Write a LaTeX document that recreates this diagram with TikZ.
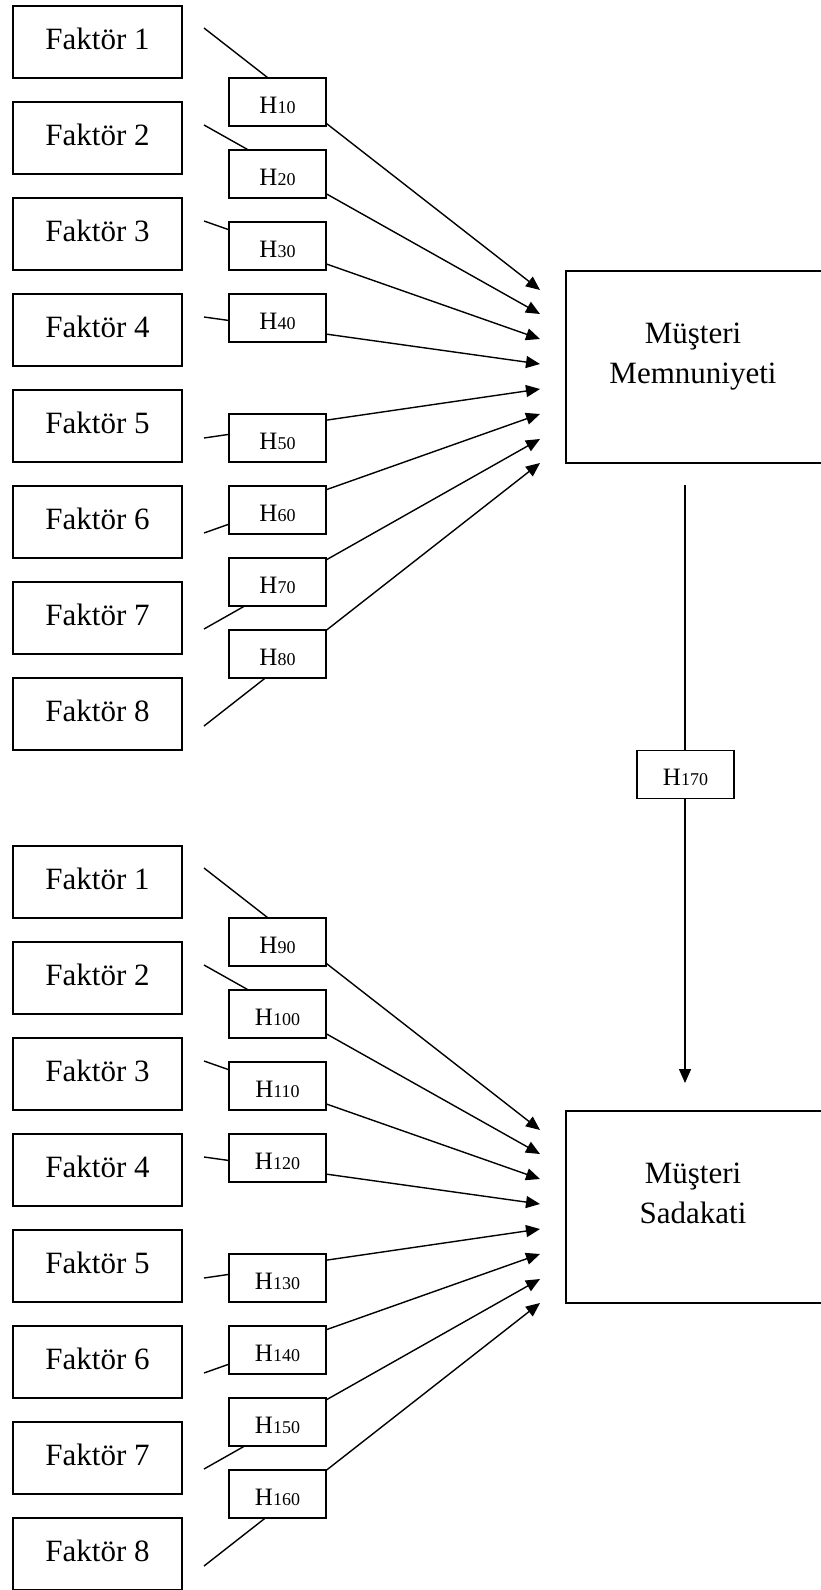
\documentclass[tikz,border=0pt]{standalone}
\usepackage{fontspec}
\setmainfont{Liberation Serif}
\usetikzlibrary{arrows.meta}
% hypothesis label: capital H with smaller digits
\newcommand{\hname}[1]{H{\fontsize{18}{20}\selectfont #1}}
\begin{document}
\begin{tikzpicture}[x=1pt,y=-1pt,
  factor/.style={draw, line width=1.7pt, minimum width=169pt, minimum height=72pt,
    inner sep=0pt, text height=21.2pt, text depth=6.6pt,
    font=\fontsize{31}{37}\selectfont},
  hyp/.style={draw, fill=white, line width=1.5pt, minimum width=97pt, minimum height=48pt,
    inner sep=0pt, text height=22pt, text depth=0pt,
    font=\fontsize{25}{30}\selectfont},
  outcome/.style={draw, line width=1.7pt, minimum width=265pt, minimum height=192pt,
    anchor=north west, inner sep=0pt},
  outtext/.style={anchor=north, align=center, inner sep=0pt,
    font=\fontsize{31}{40}\selectfont},
  link/.style={line width=1.4pt, -{Triangle[length=14pt,width=12pt]}}]
\useasboundingbox (0,0) rectangle (821,1590);
\clip (0,0) rectangle (821,1590);

% outcome constructs
\node[outcome] (mm) at (565,270) {};
\node[outtext] (mmt) at (693,323) {Müşteri\\Memnuniyeti};
\node[outcome] (ms) at (565,1110) {};
\node[outtext] (mst) at (693,1163) {Müşteri\\Sadakati};

% satisfaction -> loyalty
\coordinate (vs) at (685,485);
\coordinate (ve) at (685,1083);
\draw[link] (vs) -- (ve);
\node[hyp] (h17) at (685.5,774.5) {\hname{170}};

% two blocks of eight factors with their hypotheses
\foreach \g/\off/\base in {a/0/0, b/840/8}{
  \foreach \i/\ys/\yt/\yh in {1/28/290/102, 2/125/314/174, 3/221/339/246,
      4/317/364/318, 5/438/389/438, 6/533/414/510, 7/629/439/582, 8/726/463/654}{
    \pgfmathsetmacro\fy{42+96*(\i-1)+\off}
    \pgfmathtruncatemacro\hn{10*(\i+\base)}
    \node[factor] (f\g\i) at (97.5,\fy) {Faktör \i};
    \coordinate (s\g\i) at (204,\ys+\off);
    \coordinate (t\g\i) at (540,\yt+\off);
    \draw[link] (s\g\i) -- (t\g\i);
    \node[hyp] (h\g\i) at (277.5,\yh+\off) {\hname{\hn}};
  }
}
\end{tikzpicture}
\end{document}
